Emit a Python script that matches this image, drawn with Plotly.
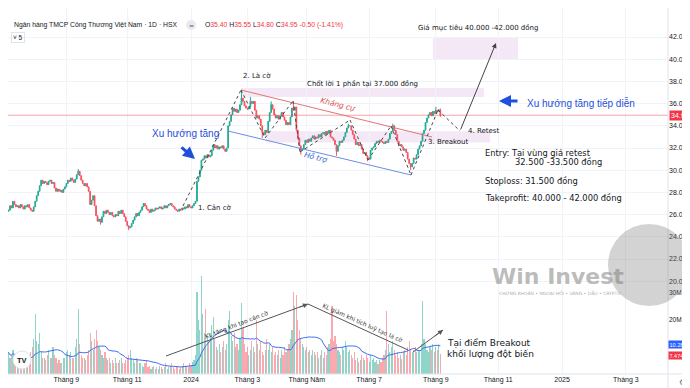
import plotly.graph_objects as go
import pandas as pd

# ---------------- DATA ----------------
title_text = "Ngân hàng TMCP Công Thương Việt Nam · 1D · HSX"
start_date = "2023-07-10"
end_date = "2024-09-09"
holidays = ["2023-09-01", "2023-09-04", "2024-01-01", "2024-02-08", "2024-02-09",
            "2024-02-12", "2024-02-13", "2024-02-14", "2024-04-18", "2024-04-29",
            "2024-04-30", "2024-05-01", "2024-09-02", "2024-09-03"]

closes = [
    26.4, 26.8, 26.6, 27.2, 26.9, 26.7, 26.8, 26.6, 26.9, 26.7,
    26.5, 26.8, 26.7, 26.9, 26.6, 26.4, 26.3, 26.7, 27.2, 27.7,
    28.1, 28.6, 29.1, 28.8, 29.0, 28.9, 28.7, 29.0, 29.1, 28.8,
    28.9, 28.4, 28.1, 28.3, 28.1, 28.2, 28.0, 28.3, 28.5, 28.8,
    29.1, 29.0, 29.3, 29.1, 28.9, 29.2, 29.6, 29.9, 29.5, 29.1,
    28.8, 28.6, 28.8, 28.5, 28.1, 26.9, 27.3, 27.7, 26.8, 25.9,
    25.4, 25.6, 25.3, 25.8, 26.3, 26.1, 26.4, 26.2, 26.0, 26.2,
    25.9, 25.8, 26.0, 25.9, 26.3, 26.1, 26.4, 26.1, 25.8, 25.4,
    25.0, 24.8, 24.9, 25.2, 25.5, 25.8, 26.1, 25.9, 26.2, 26.4,
    26.7, 27.0, 26.8, 26.5, 26.4, 26.2, 26.5, 26.3, 26.4, 26.6,
    26.5, 26.6, 26.7, 26.5, 26.6, 26.8, 26.6, 26.8, 26.9, 27.0,
    26.8, 26.7, 26.5, 26.4, 26.3, 26.5, 26.4, 26.6, 26.5, 26.7,
    26.6, 26.9, 26.7, 26.6, 26.8, 27.0, 27.2, 29.0, 29.4, 30.0,
    30.9, 31.0, 31.3, 31.1, 31.4, 31.2, 31.3, 31.8, 32.3, 32.0,
    32.2, 31.9, 32.1, 32.0, 32.2, 31.9, 31.7, 32.0, 34.0, 34.4,
    35.0, 35.6, 35.3, 35.5, 35.2, 35.4, 35.9, 36.5, 36.2, 35.8,
    35.6, 35.5, 35.7, 36.2, 36.0, 36.2, 35.4, 34.7, 34.9, 34.6,
    34.0, 33.4, 33.2, 33.6, 33.4, 34.4, 35.2, 35.9, 35.5, 35.0,
    34.7, 34.9, 34.6, 34.9, 35.2, 34.8, 34.5, 34.1, 34.3, 34.1,
    34.8, 35.6, 35.4, 35.7, 33.6, 32.9, 32.2, 31.8, 31.9, 32.3,
    32.7, 32.5, 32.8, 32.6, 32.9, 33.1, 32.8, 33.0, 32.9, 33.2,
    33.0, 33.3, 33.4, 33.2, 33.5, 33.3, 33.6, 33.0, 32.9, 32.7,
    32.3, 31.7, 32.2, 32.6, 32.5, 32.7, 33.0, 33.4, 33.8, 34.0,
    34.0, 33.6, 33.2, 32.8, 32.3, 32.5, 32.2, 32.3, 31.9, 31.5,
    31.6, 31.3, 31.0, 31.0, 31.8, 32.0, 32.1, 32.4, 32.6, 32.5,
    32.7, 32.6, 32.5, 32.4, 32.6, 32.5, 32.8, 33.3, 33.5, 34.0,
    33.6, 33.2, 32.6, 32.2, 32.3, 32.1, 31.8, 31.9, 31.6, 31.0,
    30.6, 30.3, 30.6, 31.1, 31.0, 31.4, 31.9, 32.2, 32.6, 33.3,
    33.6, 34.3, 34.7, 35.0, 35.2, 34.9, 35.3, 35.1, 35.4, 35.3,
    35.45, 34.95,
]

volumes_m = [
    8, 6, 7, 9, 6, 5, 4, 6, 4, 6,
    5, 4, 6, 4, 7, 8, 10, 13, 22, 12,
    11, 15, 8, 6, 6, 5, 7, 9, 6, 6,
    10, 7, 6, 4, 5, 4, 4, 6, 6, 8,
    9, 7, 8, 6, 6, 10, 13, 24, 11, 7,
    6, 6, 5, 7, 9, 15, 12, 9, 13, 16,
    12, 10, 9, 7, 6, 8, 6, 5, 6, 4,
    5, 4, 6, 4, 4, 5, 6, 4, 4, 5,
    6, 7, 9, 6, 5, 4, 6, 5, 4, 4,
    3, 2.5, 4, 5, 2.5, 3, 2, 2.5, 3, 2,
    2.5, 2, 3, 2.5, 2, 2.5, 4, 2, 2.5, 3,
    4, 2.5, 2, 3, 2.5, 2, 2.5, 3, 4, 2.5,
    3, 2.5, 4, 3, 4.5, 5, 7, 30, 20, 16,
    36, 22, 15, 24, 14, 12, 15, 18, 21, 13,
    10, 9, 11, 8, 10, 12, 9, 11, 20, 23,
    14, 12, 15, 10, 11, 9, 13, 26, 17, 11,
    8, 10, 7, 9, 12, 10, 8, 20, 11, 9,
    12, 8, 7, 9, 13, 9, 11, 8, 10, 7,
    8, 7, 9, 6, 9, 7, 10, 8, 9, 11,
    13, 16, 30, 25, 29, 20, 16, 13, 11, 10,
    9, 10, 8, 9, 7, 9, 8, 7, 8, 6,
    7, 9, 6, 8, 7, 10, 11, 13, 25, 12,
    14, 11, 9, 8, 7, 10, 9, 12, 10, 8,
    9, 7, 6, 8, 5, 6, 4.5, 5, 7, 6,
    5, 7, 6, 4.5, 7, 5, 6, 4.5, 5, 3.5,
    5, 4.5, 6, 7, 9, 23, 11, 8, 10, 12,
    9, 7, 8, 6, 7, 5.5, 8, 9, 7, 10,
    12, 9, 8, 9, 10, 8, 9, 9, 11, 27,
    13, 11, 9, 8, 10, 9, 11, 8, 10, 9,
    11, 7.474,
]

first_open = 26.3
last_open, last_high, last_low = 35.40, 35.55, 34.80
wick_highs = {47: 30.1, 157: 37.2, 163: 36.6, 177: 36.2, 192: 36.2, 229: 34.2, 259: 34.2, 288: 35.7}
wick_lows = {62: 25.1, 81: 24.6, 171: 32.9, 197: 31.4, 221: 31.3, 242: 30.8, 271: 30.0}

month_starts = ["2023-09-01", "2023-11-01", "2024-01-01", "2024-03-01", "2024-05-01",
                "2024-07-01", "2024-09-01", "2024-11-01", "2025-01-01", "2025-03-01"]
month_labels = ["Tháng 9", "Tháng 11", "2024", "Tháng 3", "Tháng Năm",
                "Tháng 7", "Tháng 9", "Tháng 11", "2025", "Tháng 3"]
price_ticks = [20, 22, 24, 26, 28, 30, 32, 34, 36, 38, 40, 42]
vol_ticks = [20, 30]
vol_tick_text = ["20M", "30M"]
ma_label = "10.284M"
target_zone = (40.0, 42.0)
takeprofit_zone = (36.6, 37.4)
retest_zone = (32.5, 33.5)

# ---------------- BUILD ----------------
n = len(closes)
hol = pd.to_datetime(holidays)
hist = pd.bdate_range(start_date, end_date)
hist = hist[~hist.isin(hol)]
future = pd.bdate_range(hist[-1] + pd.Timedelta(days=1), "2025-08-29")
cal = hist.append(future)
idx = list(range(n))

opens = [first_open] + closes[:-1]
opens[-1] = last_open
highs = [max(o, c) for o, c in zip(opens, closes)]
lows = [min(o, c) for o, c in zip(opens, closes)]
for k, v in wick_highs.items():
    highs[k] = max(highs[k], v)
for k, v in wick_lows.items():
    lows[k] = min(lows[k], v)
highs[-1] = last_high
lows[-1] = last_low

vol_ma = pd.Series(volumes_m).rolling(20, min_periods=1).mean().tolist()
up = [c >= o for o, c in zip(opens, closes)]
vol_colors = ["rgba(34,171,148,0.5)" if u else "rgba(247,82,95,0.5)" for u in up]

tickvals = [int(cal.searchsorted(pd.Timestamp(m))) for m in month_starts]

# pixel helpers (plot area 660 x 366)
PW, PH = 660.0, 366.0
def X(px):
    return (px - 0.5) / 1.484
def Y(py):
    return 42 - (py - 29) / 11.1
def PX(px):
    return px / PW
def PY(py):
    return 1 - py / PH

RED = "#f23645"
GREEN = "#22ab94"
BLUE_T = "#1f4fdc"
DARK = "#131722"

fig = go.Figure()
fig.add_trace(go.Bar(x=idx, y=volumes_m, marker_color=vol_colors, marker_line_width=0,
                     width=0.75, yaxis="y2", showlegend=False, hoverinfo="skip"))
fig.add_trace(go.Scatter(x=idx, y=vol_ma, mode="lines", line=dict(color="#3d6df2", width=1),
                         yaxis="y2", showlegend=False, hoverinfo="skip"))
fig.add_trace(go.Candlestick(x=idx, open=opens, high=highs, low=lows, close=closes,
                             increasing=dict(line=dict(color=GREEN, width=1), fillcolor=GREEN),
                             decreasing=dict(line=dict(color="#f7525f", width=1), fillcolor="#f7525f"),
                             whiskerwidth=0, showlegend=False, hoverinfo="skip"))

shapes = []
zone_fill = "rgba(214,170,222,0.28)"
shapes.append(dict(type="rect", xref="x", yref="y", x0=X(425), x1=X(510), y0=target_zone[0], y1=target_zone[1],
                   fillcolor=zone_fill, line_width=0, layer="below"))
shapes.append(dict(type="rect", xref="x", yref="y", x0=X(233), x1=X(476), y0=takeprofit_zone[0], y1=takeprofit_zone[1],
                   fillcolor=zone_fill, line_width=0, layer="below"))
shapes.append(dict(type="rect", xref="x", yref="y", x0=X(258), x1=X(482), y0=retest_zone[0], y1=retest_zone[1],
                   fillcolor=zone_fill, line_width=0, layer="below"))
shapes.append(dict(type="line", xref="paper", yref="y", x0=0, x1=1, y0=closes[-1], y1=closes[-1],
                   line=dict(color="rgba(242,54,69,0.45)", width=1)))
shapes.append(dict(type="line", xref="x", yref="y", x0=X(233), y0=Y(82), x1=X(424), y1=Y(129),
                   line=dict(color="#e57373", width=1)))
shapes.append(dict(type="line", xref="x", yref="y", x0=X(220), y0=Y(123), x1=X(403), y1=Y(167),
                   line=dict(color="#6b8de3", width=1)))
zig = [(175, 198), (233, 82), (257, 130), (285, 93), (292, 144), (342, 112), (360, 152),
       (383, 118), (403, 167), (430, 102), (452, 123)]
for (a, b), (c, d) in zip(zig[:-1], zig[1:]):
    shapes.append(dict(type="line", xref="x", yref="y", x0=X(a), y0=Y(b), x1=X(c), y1=Y(d),
                       line=dict(color="#444444", width=1, dash="dot")))
for (a, b), (c, d) in [((158, 348), (300, 296)), ((300, 296), (400, 342)), ((405, 344), (435, 322))]:
    shapes.append(dict(type="line", xref="paper", yref="paper", x0=PX(a), y0=PY(b), x1=PX(c), y1=PY(d),
                       line=dict(color="#555555", width=1)))
shapes.append(dict(type="line", xref="paper", yref="paper", x0=1, x1=1, y0=-22 / PH, y1=1,
                   line=dict(color="#e0e3eb", width=1)))
shapes.append(dict(type="line", xref="paper", yref="paper", x0=0, x1=690 / PW, y0=0, y1=0,
                   line=dict(color="#e0e3eb", width=1)))
shapes.append(dict(type="circle", xref="paper", yref="paper", x0=PX(178), x1=PX(188), y0=PY(22), y1=PY(12),
                   fillcolor="#e9eaee", line_width=0))
shapes.append(dict(type="circle", xref="paper", yref="paper", x0=PX(600), x1=PX(682), y0=PY(298), y1=PY(216),
                   fillcolor="rgba(120,120,120,0.33)", line_width=0, layer="above"))
shapes.append(dict(type="circle", xref="paper", yref="paper", x0=PX(5), x1=PX(23), y0=PY(361), y1=PY(343),
                   fillcolor="white", line=dict(color="#e0e3eb", width=1)))

ann = []
def txt(text, x, y, size=7, color=DARK, xanchor="center", family="DejaVu Sans", angle=0, **kw):
    ann.append(dict(text=text, x=PX(x), y=PY(y), xref="paper", yref="paper", showarrow=False,
                    xanchor=xanchor, yanchor="middle", textangle=angle,
                    font=dict(size=size, color=color, family=family), **kw))

txt(title_text, 4, 17, size=6.8, xanchor="left", family="Liberation Sans")
txt("=", 183, 17, size=6, color="#555")
o_, h_, l_, c_ = opens[-1], highs[-1], lows[-1], closes[-1]
chg = c_ - closes[-2]
pct = chg / closes[-2] * 100
sp = lambda v: f"<span style='color:{RED}'>{v}</span>"
hdr = (f"O{sp(f'{o_:.2f}')} H{sp(f'{h_:.2f}')} L{sp(f'{l_:.2f}')} C{sp(f'{c_:.2f}')} "
       f"{sp(f'{chg:+.2f} ({pct:+.2f}%)')}")
txt(hdr, 195, 17, size=6.8, xanchor="left", family="Liberation Sans")
txt("˅ 5", 10.5, 30, size=6.5, family="Liberation Sans", bordercolor="#e0e3eb", borderwidth=1, borderpad=1)

txt("Giá mục tiêu 40.000 -42.000 đồng", 470, 20, size=7)
txt("2. Là cờ", 249, 68, size=7)
txt("Chốt lời 1 phần tại 37.000 đồng", 354, 76, size=7)
txt("<i>Kháng cự</i>", 330, 97, size=7.5, color="#d9534f", angle=14)
txt("<i>Hỗ trợ</i>", 308, 149, size=7.5, color="#2f5fe0", angle=14)
txt("Xu hướng tăng", 142, 125, size=10, color=BLUE_T, xanchor="left", family="Liberation Sans")
txt("1. Cản cờ", 207, 200, size=7)
txt("3. Breakout", 418, 134, size=7, xanchor="left")
txt("4. Retest", 475, 123, size=7)
txt("Xu hướng tăng tiếp diễn", 517, 95, size=10, color=BLUE_T, xanchor="left", family="Liberation Sans")
txt("Entry: Tại vùng giá retest", 475, 145, size=8.3, xanchor="left")
txt("32.500 -33.500 đồng", 505, 154, size=8.3, xanchor="left")
txt("Stoploss: 31.500 đồng", 475, 173, size=8.3, xanchor="left")
txt("Takeprofit: 40.000 - 42.000 đồng", 475, 190, size=8.3, xanchor="left")
txt("KL tăng khi tạo cán cờ", 228, 317, size=6, color="#333", angle=-21)
txt("KL giảm khi tích luỹ tạo lá cờ", 354, 315, size=6, color="#333", angle=24)
txt("Tại điểm Breakout", 437, 335, size=9, xanchor="left")
txt("khối lượng đột biến", 437, 346, size=9, xanchor="left")
txt("<b>Win Invest</b>", 550, 268, size=22, color="rgba(130,130,130,0.55)", family="DejaVu Sans")
txt("CHỨNG KHOÁN • NGOẠI HỐI • VÀNG • DẦU • CRYPTO", 552, 285, size=4.5, color="rgba(130,130,130,0.7)")
txt("<b>TV</b>", 14, 352, size=7.5, color="#131722", family="Liberation Sans")
txt("⚙", 674, 375, size=8, color="#666")

def arrow(hx, hy, tx, ty, color, width, head=2, size=1.0):
    ann.append(dict(x=PX(hx), y=PY(hy), xref="paper", yref="paper", ax=tx - hx, ay=ty - hy,
                    axref="pixel", ayref="pixel", showarrow=True, arrowhead=head, arrowsize=size,
                    arrowwidth=width, arrowcolor=color, text=""))
arrow(187, 151, 172, 138, BLUE_T, 3, head=2, size=0.8)
arrow(491, 93, 511, 93, BLUE_T, 3, head=2, size=0.8)
arrow(488, 35, 452, 123, "#444444", 1, head=2, size=1)
arrow(300, 296, 290, 299.7, "#555555", 1, head=2, size=1)
arrow(435, 322, 425, 329.4, "#555555", 1, head=2, size=1)

ann.append(dict(text=f"{closes[-1]:.2f}", x=1, xref="paper", y=closes[-1], yref="y", xanchor="left",
                xshift=1, showarrow=False, bgcolor=RED, font=dict(size=7, color="white", family="Liberation Sans"),
                borderpad=1))
ann.append(dict(text=ma_label, x=1, xref="paper", y=vol_ma[-1], yref="y2", xanchor="left",
                xshift=0, yshift=1.5, showarrow=False, bgcolor="#2962ff",
                font=dict(size=5.5, color="white", family="Liberation Sans"), borderpad=0.5))
ann.append(dict(text=f"{volumes_m[-1]:.3f}M", x=1, xref="paper", y=volumes_m[-1], yref="y2", xanchor="left",
                xshift=0, yshift=-1.5, showarrow=False, bgcolor=RED,
                font=dict(size=5.5, color="white", family="Liberation Sans"), borderpad=0.5))

fig.update_layout(
    width=690, height=388,
    margin=dict(l=0, r=30, t=0, b=22),
    paper_bgcolor="white", plot_bgcolor="white",
    font=dict(family="Liberation Sans", color=DARK, size=7.5),
    showlegend=False,
    bargap=0,
    xaxis=dict(range=[X(0), X(660)], tickmode="array", tickvals=tickvals, ticktext=month_labels,
               showgrid=True, gridcolor="#f0f3fa", gridwidth=1, zeroline=False, showline=False,
               ticks="", tickfont=dict(size=7, color=DARK), rangeslider=dict(visible=False)),
    yaxis=dict(range=[Y(PH), Y(0)], side="right", tickmode="array", tickvals=price_ticks,
               tickformat=".2f", showgrid=True, gridcolor="#f0f3fa", zeroline=False,
               ticks="", tickfont=dict(size=7, color=DARK)),
    yaxis2=dict(range=[0, PH / 2.72], overlaying="y", side="right", tickmode="array",
                tickvals=vol_ticks, ticktext=vol_tick_text, showgrid=False, zeroline=False,
                ticks="", tickfont=dict(size=6.5, color=DARK)),
    shapes=shapes,
    annotations=ann,
)

fig.write_html("out.html", config={"displayModeBar": False})
